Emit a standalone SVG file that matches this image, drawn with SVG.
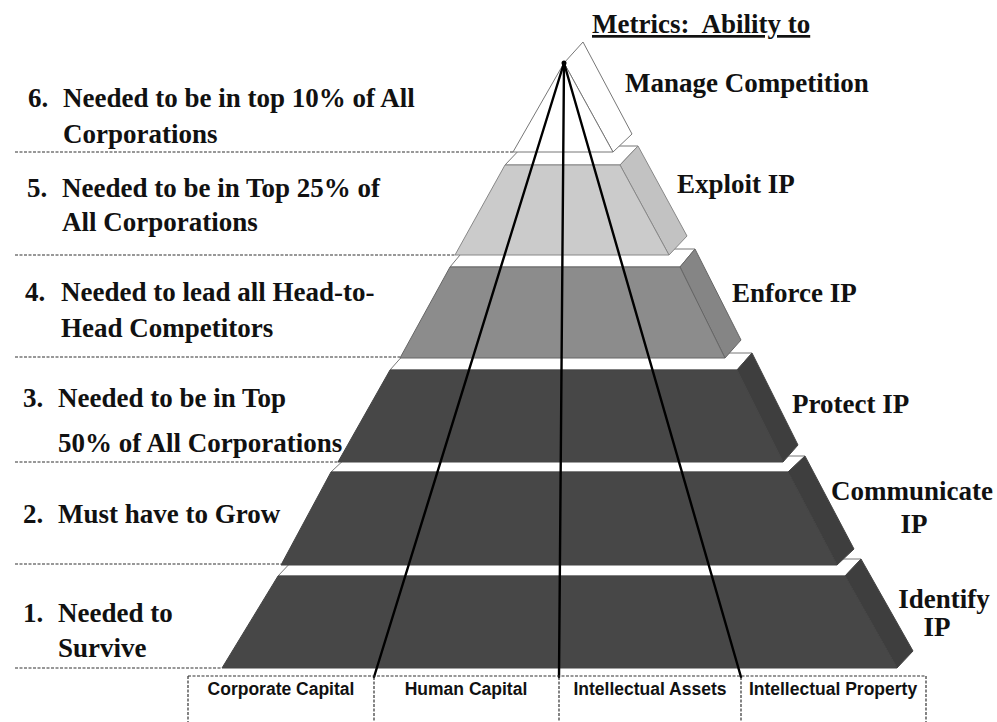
<svg xmlns="http://www.w3.org/2000/svg" width="997" height="722" viewBox="0 0 997 722">
<defs>
<style>
.lbl{font-family:"Liberation Serif","Times New Roman",serif;font-weight:bold;font-size:27px;fill:#111}
.mid{text-anchor:middle}
.cap{font-family:"Liberation Sans",Arial,sans-serif;font-weight:bold;font-size:17.5px;fill:#111;text-anchor:middle}
.dot{stroke:#333;stroke-width:1.2;stroke-dasharray:3 1.5;fill:none}
.band{fill:#fff;stroke:#777;stroke-width:1}
.f5{fill:#cbcbcb;stroke:#888;stroke-width:1}
.s5{fill:#c2c2c2;stroke:#888;stroke-width:1}
.f4{fill:#8c8c8c;stroke:#666;stroke-width:1}
.s4{fill:#858585;stroke:#666;stroke-width:1}
.fd{fill:#474747;stroke:#444;stroke-width:1}
.sd{fill:#3e3e3e;stroke:#444;stroke-width:1}
.ray{stroke:#000;stroke-width:2.4;fill:none;stroke-linecap:round}
</style>
</defs>
<rect width="997" height="722" fill="#fff"/>

<g id="guides">
<line class="dot" x1="15" y1="152" x2="513" y2="152"/>
<line class="dot" x1="15" y1="255" x2="455" y2="255"/>
<line class="dot" x1="15" y1="357" x2="400" y2="357"/>
<line class="dot" x1="15" y1="462" x2="338" y2="462"/>
<line class="dot" x1="15" y1="564" x2="281" y2="564"/>
<line class="dot" x1="15" y1="668" x2="222" y2="668"/>
</g>

<g id="layer1">
<polygon class="band" points="278,576 845,576 861,559 294,559"/>
<polygon class="sd" points="845,576 861,559 913,651 897,668"/>
<polygon class="fd" points="278,576 845,576 897,668 222,668"/>
</g>
<g id="layer2">
<polygon class="band" points="331,472 788,472 805,456 348,456"/>
<polygon class="sd" points="788,472 805,456 854,549 837,565"/>
<polygon class="fd" points="331,472 788,472 837,565 281,565"/>
</g>
<g id="layer3">
<polygon class="band" points="390,370 737,370 752,353 405,353"/>
<polygon class="sd" points="737,370 752,353 798,445 783,462"/>
<polygon class="fd" points="390,370 737,370 783,462 338,462"/>
</g>
<g id="layer4">
<polygon class="band" points="450,267 680,267 695,249 465,249"/>
<polygon class="s4" points="680,267 695,249 741,340 725,358"/>
<polygon class="f4" points="450,267 680,267 725,358 400,358"/>
</g>
<g id="layer5">
<polygon class="band" points="505,165 620,165 638,146 523,146"/>
<polygon class="s5" points="620,165 638,146 687,236 669,255"/>
<polygon class="f5" points="505,165 620,165 669,255 455,255"/>
</g>
<g id="layer6">
<polygon class="band" points="564,63 583,42 632,134 613,152"/>
<polygon class="band" points="564,63 613,152 513,152"/>
</g>

<g id="connectors">
<line class="ray" x1="564" y1="63" x2="374" y2="677"/>
<line class="ray" x1="564" y1="63" x2="559" y2="677"/>
<line class="ray" x1="564" y1="63" x2="741" y2="677"/>
<circle cx="564" cy="63" r="2.5" fill="#000"/>
</g>

<g id="capital-table">
<path class="dot" d="M188,676 H926 M188,676 V722 M926,676 V722 M374,677 V722 M559,677 V722 M741,677 V722"/>
<text class="cap" x="281" y="695">Corporate Capital</text>
<text class="cap" x="466" y="695">Human Capital</text>
<text class="cap" x="650" y="695">Intellectual Assets</text>
<text class="cap" x="833" y="695">Intellectual Property</text>
</g>

<g id="levels">
<text class="lbl" x="28" y="107">6.</text>
<text class="lbl" x="63" y="107">Needed to be in top 10% of All</text>
<text class="lbl" x="63" y="143">Corporations</text>
<text class="lbl" x="27" y="197">5.</text>
<text class="lbl" x="62" y="197">Needed to be in Top 25% of</text>
<text class="lbl" x="62" y="231">All Corporations</text>
<text class="lbl" x="25" y="301">4.</text>
<text class="lbl" x="61" y="301">Needed to lead all Head-to-</text>
<text class="lbl" x="61" y="337">Head Competitors</text>
<text class="lbl" x="23" y="407">3.</text>
<text class="lbl" x="58" y="407">Needed to be in Top</text>
<text class="lbl" x="58" y="452">50% of All Corporations</text>
<text class="lbl" x="23" y="523">2.</text>
<text class="lbl" x="58" y="523">Must have to Grow</text>
<text class="lbl" x="23" y="622">1.</text>
<text class="lbl" x="58" y="622">Needed to</text>
<text class="lbl" x="58" y="657">Survive</text>
</g>

<g id="metrics">
<text class="lbl" x="592" y="33" text-decoration="underline" style="white-space:pre">Metrics:  Ability to</text>
<text class="lbl" x="625" y="92">Manage Competition</text>
<text class="lbl" x="677" y="193">Exploit IP</text>
<text class="lbl" x="732" y="302">Enforce IP</text>
<text class="lbl" x="792" y="413">Protect IP</text>
<text class="lbl mid" x="912" y="500">Communicate</text>
<text class="lbl mid" x="914" y="533">IP</text>
<text class="lbl mid" x="944" y="608">Identify</text>
<text class="lbl mid" x="937" y="636">IP</text>
</g>
</svg>
